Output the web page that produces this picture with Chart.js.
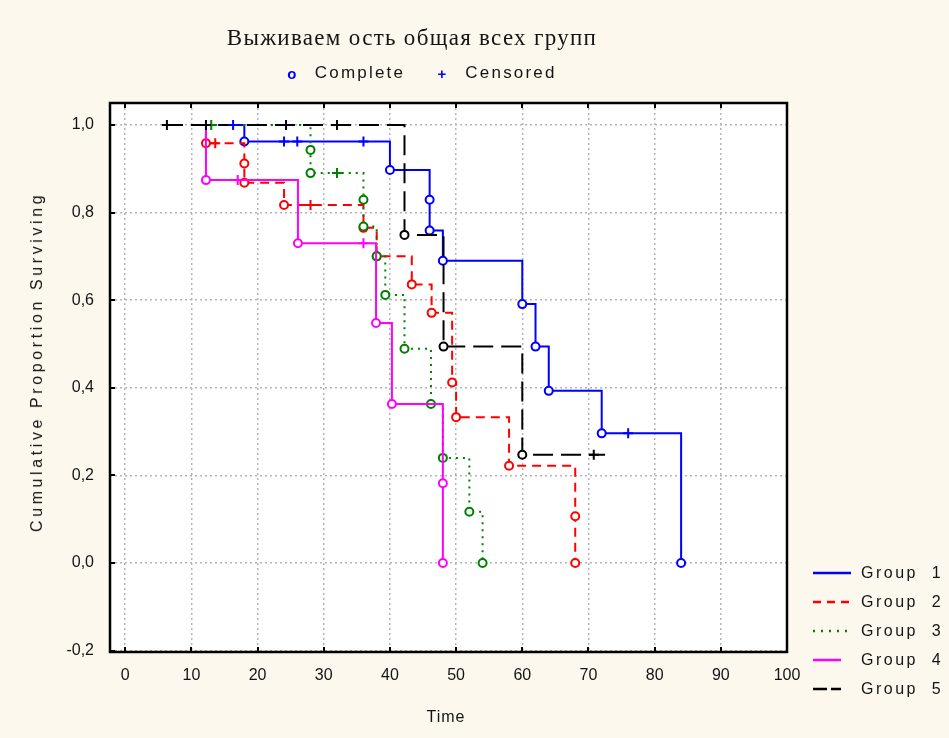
<!DOCTYPE html>
<html lang="ru">
<head>
<meta charset="UTF-8">
<title>Выживаемость общая всех групп</title>
<script src="https://cdn.jsdelivr.net/npm/chart.js"></script>
<style>
    html, body { margin: 0; padding: 0; background: #fcf8ee; }
    #wrap {
        position: relative;
        width: 949px;
        height: 738px;
        overflow: hidden;
        font-family: "Liberation Sans", Arial, sans-serif;
        color: #141414;
    }
    #wrap canvas { position: absolute; left: 0; top: 0; }
    .lbl { position: absolute; white-space: pre; transform: translate(-50%, -50%); }
    #title {
        left: 412px; top: 38px;
        font-family: "Liberation Serif", "Times New Roman", serif;
        font-size: 23px; letter-spacing: 1.3px;
    }
    .top-legend { font-size: 17px; letter-spacing: 2.2px; top: 73px; }
    .mark { color: #0000ff; font-size: 15px; font-weight: bold; }
    #ytitle {
        left: 37px; top: 362px;
        font-size: 16px; letter-spacing: 3.6px;
        transform: translate(-50%, -50%) rotate(-90deg);
    }
    #xtitle { left: 446px; top: 717px; font-size: 16px; letter-spacing: 1px; }
    .grp {
        position: absolute; left: 861px;
        font-size: 16px; letter-spacing: 2.5px; white-space: pre;
        transform: translateY(-50%);
    }
    #swatches { position: absolute; left: 805px; top: 560px; }
</style>
</head>
<body>
<div id="wrap">
    <canvas id="km" width="949" height="738"></canvas>

    <div class="lbl" id="title">Выживаем ость общая всех групп</div>
    <div class="lbl top-legend mark" style="left:293px;">o</div>
    <div class="lbl top-legend" style="left:360px;">Complete</div>
    <div class="lbl top-legend mark" style="left:443px;">+</div>
    <div class="lbl top-legend" style="left:511px;">Censored</div>

    <div class="lbl" id="ytitle">Cumulative Proportion Surviving</div>
    <div class="lbl" id="xtitle">Time</div>

    <svg id="swatches" width="50" height="140">
        <line x1="8" y1="13" x2="46" y2="13" stroke="#0000ff" stroke-width="2.5"/>
        <line x1="8" y1="42" x2="46" y2="42" stroke="#ff0000" stroke-width="2.5" stroke-dasharray="8 6"/>
        <line x1="8" y1="71" x2="46" y2="71" stroke="#008000" stroke-width="2.5" stroke-dasharray="2 6"/>
        <line x1="8" y1="100" x2="36" y2="100" stroke="#ff00ff" stroke-width="2.5"/>
        <line x1="8" y1="129" x2="36" y2="129" stroke="#000000" stroke-width="2.5" stroke-dasharray="14 4"/>
    </svg>
    <div class="grp" style="top:573px;">Group  1</div>
    <div class="grp" style="top:602px;">Group  2</div>
    <div class="grp" style="top:631px;">Group  3</div>
    <div class="grp" style="top:660px;">Group  4</div>
    <div class="grp" style="top:689px;">Group  5</div>
</div>

<script>
    // значения (Kaplan-Meier по группам)
    const xTicks = [0, 10, 20, 30, 40, 50, 60, 70, 80, 90, 100];
    const yTicks = [-0.2, 0, 0.2, 0.4, 0.6, 0.8, 1.0];

    const groupNames = ['Group 1', 'Group 2', 'Group 3', 'Group 4', 'Group 5'];
    const groupColors = ['#0000ff', '#ff0000', '#008000', '#ff00ff', '#000000'];
    const groupDash = [[], [9, 6], [2, 5], [], [20, 8]];

    // Group 1
    const g1Start = 14;
    const g1EventTime = [18, 40, 46, 46, 48, 60, 62, 64, 72, 84];
    const g1EventSurv = [0.962, 0.897, 0.829, 0.759, 0.690, 0.591, 0.494, 0.393, 0.296, 0.0];
    const g1CensTime = [16.3, 24, 26, 36, 76];
    const g1CensSurv = [1.0, 0.962, 0.962, 0.962, 0.296];
    const g1End = null;

    // Group 2
    const g2Start = 11;
    const g2EventTime = [12.2, 18, 18, 24, 36, 38, 43.3, 46.3, 49.4, 50, 58, 68, 68];
    const g2EventSurv = [0.958, 0.912, 0.868, 0.817, 0.765, 0.700, 0.636, 0.571, 0.412, 0.333, 0.222, 0.107, 0.0];
    const g2CensTime = [13.6, 28];
    const g2CensSurv = [0.958, 0.817];
    const g2End = null;

    // Group 3
    const g3Start = 12.5;
    const g3EventTime = [28, 28, 36, 36, 38, 39.3, 42.2, 46.2, 48, 52, 54];
    const g3EventSurv = [0.943, 0.890, 0.829, 0.768, 0.700, 0.612, 0.489, 0.363, 0.240, 0.117, 0.0];
    const g3CensTime = [13, 32];
    const g3CensSurv = [1.0, 0.890];
    const g3End = null;

    // Group 4
    const g4Start = 10;
    const g4EventTime = [12.2, 26.1, 37.9, 40.3, 48, 48];
    const g4EventSurv = [0.874, 0.730, 0.548, 0.363, 0.182, 0.0];
    const g4CensTime = [17, 36];
    const g4CensSurv = [0.874, 0.730];
    const g4End = null;

    // Group 5
    const g5Start = 5.7;
    const g5EventTime = [42.2, 48.1, 60];
    const g5EventSurv = [0.749, 0.494, 0.247];
    const g5CensTime = [6.3, 12.2, 24.3, 32, 70.8];
    const g5CensSurv = [1.0, 1.0, 1.0, 1.0, 0.247];
    const g5End = 72.5;

    const groups = [
        [g1Start, g1EventTime, g1EventSurv, g1CensTime, g1CensSurv, g1End],
        [g2Start, g2EventTime, g2EventSurv, g2CensTime, g2CensSurv, g2End],
        [g3Start, g3EventTime, g3EventSurv, g3CensTime, g3CensSurv, g3End],
        [g4Start, g4EventTime, g4EventSurv, g4CensTime, g4CensSurv, g4End],
        [g5Start, g5EventTime, g5EventSurv, g5CensTime, g5CensSurv, g5End]
    ];

    const datasets = [];
    groups.forEach(([start, times, surv, cTimes, cSurv, end], i) => {
        const pts = [{ x: start, y: 1, ev: false }];
        times.forEach((t, k) => pts.push({ x: t, y: surv[k], ev: true }));
        if (end !== null) pts.push({ x: end, y: surv[surv.length - 1], ev: false });

        datasets.push({
            label: groupNames[i],
            data: pts,
            showLine: true,
            stepped: 'before',
            borderColor: groupColors[i],
            borderWidth: 2,
            borderDash: groupDash[i],
            pointStyle: 'circle',
            pointRadius: c => (c.raw && c.raw.ev ? 4 : 0),
            pointBorderWidth: 2,
            pointBorderColor: groupColors[i],
            pointBackgroundColor: '#ffffff',
            order: 20 - i
        });
        datasets.push({
            label: groupNames[i] + ' censored',
            data: cTimes.map((t, k) => ({ x: t, y: cSurv[k] })),
            showLine: false,
            pointStyle: 'cross',
            pointRadius: 5,
            pointBorderWidth: 2,
            pointBorderColor: groupColors[i],
            order: 10 - i
        });
    });

    const fmt = v => v.toFixed(1).replace('.', ',');

    const framePlugin = {
        id: 'frame',
        beforeDraw(chart) {
            const { ctx, chartArea: a } = chart;
            ctx.save();
            ctx.fillStyle = '#fcf8ee';
            ctx.fillRect(0, 0, chart.width, chart.height);
            ctx.fillStyle = '#ffffff';
            ctx.fillRect(a.left, a.top, a.right - a.left, a.bottom - a.top);
            ctx.restore();
        },
        afterDatasetsDraw(chart) {
            const { ctx, chartArea: a, scales } = chart;
            ctx.save();
            ctx.strokeStyle = '#000';
            ctx.lineWidth = 2.5;
            ctx.strokeRect(a.left, a.top, a.right - a.left, a.bottom - a.top);
            ctx.lineWidth = 2;
            ctx.beginPath();
            xTicks.forEach(v => {
                const px = Math.round(scales.x.getPixelForValue(v));
                ctx.moveTo(px, a.bottom); ctx.lineTo(px, a.bottom - 5);
                ctx.moveTo(px, a.top); ctx.lineTo(px, a.top + 5);
            });
            yTicks.forEach(v => {
                const py = Math.round(scales.y.getPixelForValue(v));
                ctx.moveTo(a.left, py); ctx.lineTo(a.left + 5, py);
            });
            ctx.stroke();
            ctx.restore();
        }
    };

    const tickFont = { family: '"Liberation Sans", Arial, sans-serif', size: 16 };

    new Chart(document.getElementById('km'), {
        type: 'scatter',
        data: { datasets },
        options: {
            responsive: false,
            animation: false,
            layout: { padding: { top: 103, right: 162, left: 0, bottom: 0 } },
            plugins: {
                legend: { display: false },
                tooltip: { enabled: false },
                title: { display: false }
            },
            scales: {
                x: {
                    type: 'linear',
                    min: -2.3,
                    max: 100,
                    afterBuildTicks: s => { s.ticks = xTicks.map(v => ({ value: v })); },
                    afterFit: s => { s.height = 86; },
                    grid: { color: '#b5b5b5', lineWidth: 1.5, drawTicks: false },
                    border: { display: false, dash: [2, 3] },
                    ticks: { padding: 14, font: tickFont, color: '#141414', maxRotation: 0 }
                },
                y: {
                    type: 'linear',
                    min: -0.203,
                    max: 1.05,
                    afterBuildTicks: s => { s.ticks = yTicks.map(v => ({ value: v })); },
                    afterFit: s => { s.width = 110; },
                    grid: { color: '#b5b5b5', lineWidth: 1.5, drawTicks: false },
                    border: { display: false, dash: [2, 3] },
                    ticks: { padding: 16, font: tickFont, color: '#141414', callback: v => fmt(v) }
                }
            }
        },
        plugins: [framePlugin]
    });
</script>
</body>
</html>
